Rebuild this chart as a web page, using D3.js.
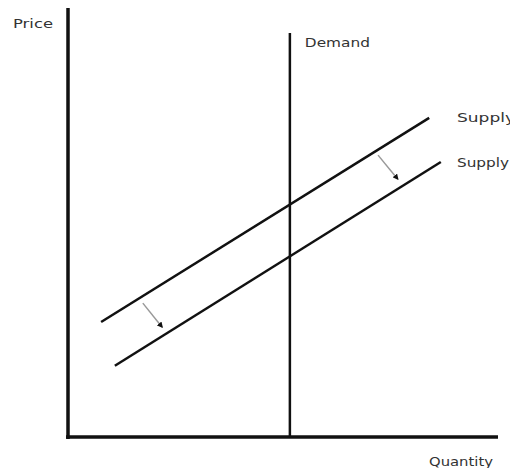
<!DOCTYPE html>
<html>
<head>
<meta charset="utf-8">
<script src="https://cdn.jsdelivr.net/npm/d3@7"></script>
<style>
  body { margin: 0; background: #fff; }
  text { font-family: "DejaVu Sans", Verdana, sans-serif; font-size: 12px; fill: #333; }
</style>
</head>
<body>
<div id="chart"></div>
<script>
// Chart size, matches the window
const width = 510;
const height = 468;

// Data (quantity / price on a 0-100 scale)
const demandQ = 51.6;
const demandTop = 94.2;
const supply1 = [{ q: 7.7, p: 26.8 }, { q: 84.0, p: 74.4 }];
const supply2 = [{ q: 10.9, p: 16.6 }, { q: 86.7, p: 64.1 }];
const shiftArrows = [
    [{ q: 17.4, p: 31.2 }, { q: 21.9, p: 25.6 }],
    [{ q: 72.1, p: 65.7 }, { q: 76.7, p: 60.1 }]
];
const axisLabels = ["Price", "Quantity"];
const curveLabels = ["Demand", "Supply", "Supply"];

const x = d3.scaleLinear().domain([0, 100]).range([68, 498]);
const y = d3.scaleLinear().domain([0, 100]).range([437, 8]);

const svg = d3.select("#chart")
    .append("svg")
    .attr("width", width)
    .attr("height", height);

svg.append("defs").append("marker")
    .attr("id", "head")
    .attr("viewBox", "0 0 10 10")
    .attr("refX", 8)
    .attr("refY", 5)
    .attr("markerWidth", 4)
    .attr("markerHeight", 4)
    .attr("orient", "auto")
    .append("path")
    .attr("d", "M0,0 L10,5 L0,10 z")
    .attr("fill", "#111");

// Axes (plain thick lines, no ticks)
svg.append("line")
    .attr("x1", x(0)).attr("x2", x(0))
    .attr("y1", y(100)).attr("y2", y(0) + 2)
    .attr("stroke", "#111").attr("stroke-width", 3.5);

svg.append("line")
    .attr("x1", x(0) - 2).attr("x2", x(100))
    .attr("y1", y(0)).attr("y2", y(0))
    .attr("stroke", "#111").attr("stroke-width", 3.5);

// Demand curve (vertical)
svg.append("line")
    .attr("x1", x(demandQ)).attr("x2", x(demandQ))
    .attr("y1", y(demandTop)).attr("y2", y(0))
    .attr("stroke", "#111").attr("stroke-width", 2.5);

// Supply curves
const line = d3.line().x(d => x(d.q)).y(d => y(d.p));

svg.selectAll(".supply")
    .data([supply1, supply2])
    .enter()
    .append("path")
    .attr("class", "supply")
    .attr("d", line)
    .attr("fill", "none")
    .attr("stroke", "#111")
    .attr("stroke-width", 2.5);

// Shift arrows
svg.selectAll(".shift")
    .data(shiftArrows)
    .enter()
    .append("path")
    .attr("class", "shift")
    .attr("d", line)
    .attr("fill", "none")
    .attr("stroke", "#999")
    .attr("stroke-width", 1.5)
    .attr("marker-end", "url(#head)");

// Labels
svg.append("text")
    .attr("x", 13).attr("y", 28)
    .attr("textLength", 40).attr("lengthAdjust", "spacingAndGlyphs")
    .text(axisLabels[0]);

svg.append("text")
    .attr("x", 429).attr("y", 466)
    .attr("textLength", 64).attr("lengthAdjust", "spacingAndGlyphs")
    .text(axisLabels[1]);

svg.append("text")
    .attr("x", x(demandQ) + 15).attr("y", 47)
    .attr("textLength", 65).attr("lengthAdjust", "spacingAndGlyphs")
    .text(curveLabels[0]);

svg.append("text")
    .attr("x", 457).attr("y", 122)
    .attr("textLength", 58).attr("lengthAdjust", "spacingAndGlyphs")
    .text(curveLabels[1]);

svg.append("text")
    .attr("x", 457).attr("y", 167)
    .attr("textLength", 52).attr("lengthAdjust", "spacingAndGlyphs")
    .text(curveLabels[2]);
</script>
</body>
</html>
